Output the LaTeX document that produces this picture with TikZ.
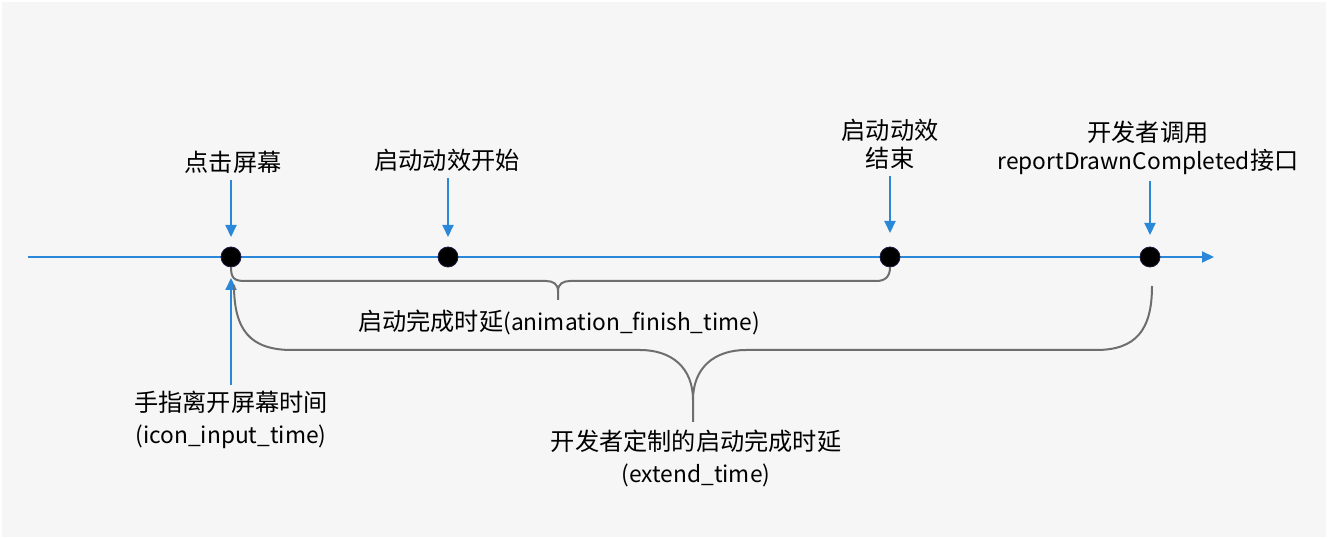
\documentclass[tikz,border=0pt]{standalone}
\usepackage{fontspec}
\setmainfont{Noto Sans CJK SC}
\newfontfamily\lat{Noto Sans CJK SC}[Scale=0.94]
\usetikzlibrary{arrows.meta}
\definecolor{bg}{HTML}{F6F6F6}
\definecolor{tl}{HTML}{2B88D9}
\definecolor{br}{HTML}{6E6E6E}
\definecolor{dotedge}{HTML}{1A1A40}
\begin{document}
\begin{tikzpicture}[x=0.5pt,y=-0.5pt,
  lbl/.style={font=\fontsize{12.1}{14}\selectfont, align=center, inner sep=0pt},
  dot/.style={circle, fill=black, draw=dotedge, line width=0.4pt, minimum size=10pt, inner sep=0pt, outer sep=0pt},
  barrow/.style={draw=tl, line width=1pt, -{Triangle[length=6pt,width=5.5pt]}},
  brace/.style={draw=br, line width=1pt}]
\useasboundingbox (0,0) rectangle (1328,539);
\fill[white] (0,0) rectangle (1328,539);
\fill[bg] (2,2) rectangle (1326,537);
% timeline
\coordinate (t0) at (28,257);
\coordinate (t1) at (1214,257);
\draw[barrow] (t0) -- (t1);
% dots
\node[dot] (d1) at (231,257) {};
\node[dot] (d2) at (448,257) {};
\node[dot] (d3) at (890,257) {};
\node[dot] (d4) at (1150,257) {};
% labels
\node[lbl] (l1) at (233,162) {点击屏幕};
\node[lbl] (l2) at (447,160) {启动动效开始};
\node[lbl] (l3) at (890,144) {启动动效\\结束};
\node[lbl] (l4) at (1148,148) {开发者调用\\{\lat reportDrawnCompleted}接口};
\node[lbl] (l5) at (231,420) {手指离开屏幕时间\\[2pt]{\lat (icon\_input\_time)}};
\node[lbl] (l6) at (559,322) {启动完成时延{\lat (animation\_finish\_time)}};
\node[lbl] (l7) at (696,458) {开发者定制的启动完成时延\\[2pt]{\lat (extend\_time)}};
% arrows
\draw[barrow, shorten <=3pt, shorten >=5pt] (l1.south -| d1) -- (d1.north);
\draw[barrow, shorten <=3pt, shorten >=5pt] (l2.south -| d2) -- (d2.north);
\draw[barrow, shorten <=3pt, shorten >=7pt] (l3.south -| d3) -- (d3.north);
\draw[barrow, shorten <=3pt, shorten >=6pt] (l4.south -| d4) -- (d4.north);
\draw[barrow, shorten <=3pt, shorten >=5.5pt] (l5.north -| d1) -- (d1.south);
% small brace
\draw[brace] (d1.south) .. controls (231,278) and (234,281) .. (245,281)
  -- (546,281) .. controls (553,281) and (558,284) .. (558,291) -- (558,300);
\draw[brace] (558,291) .. controls (558,284) and (563,281) .. (570,281)
  -- (876,281) .. controls (885,281) and (890,277) .. (d3.south);
% big brace
\draw[brace] (234,285) .. controls (234,330) and (250,350) .. (292,350)
  -- (640,350) .. controls (672,350) and (693,368) .. (693,400) -- (693,422);
\draw[brace] (693,400) .. controls (693,368) and (714,350) .. (746,350)
  -- (1096,350) .. controls (1136,350) and (1152,330) .. (1152,286);
\end{tikzpicture}
\end{document}
